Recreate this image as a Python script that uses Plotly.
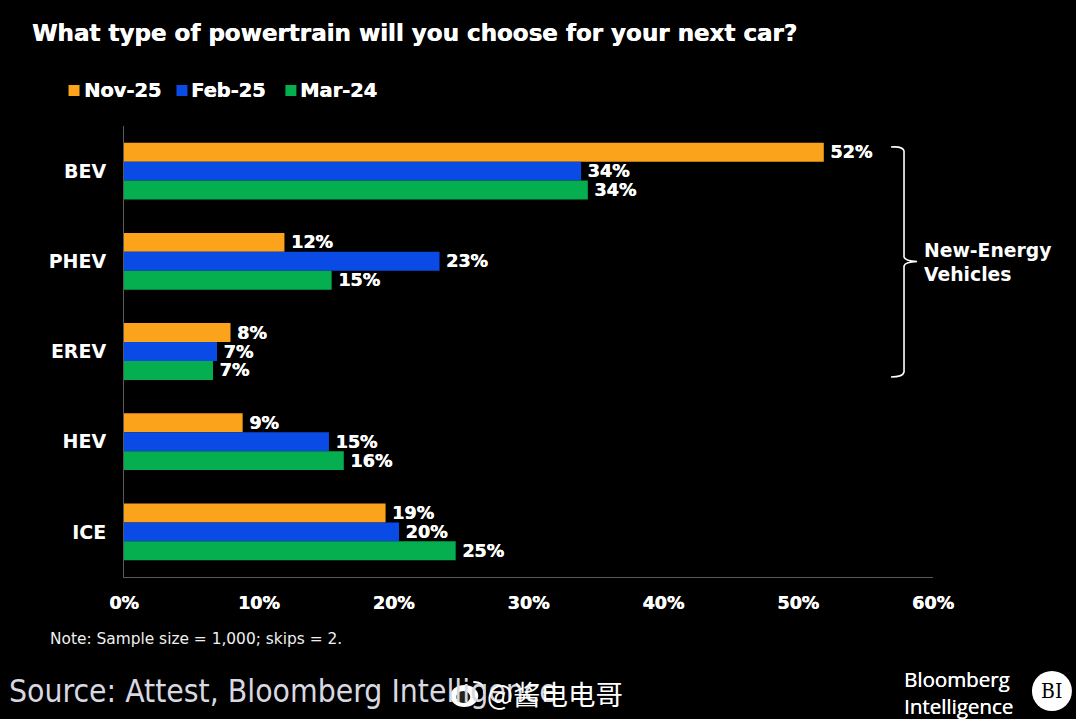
import plotly.graph_objects as go

W, H = 1076, 719
L, R, T, B = 123.5, 933.0, 126.0, 577.0

categories = ["BEV", "PHEV", "EREV", "HEV", "ICE"]
series_names = ["Nov-25", "Feb-25", "Mar-24"]
nov_25 = [51.9, 11.9, 7.9, 8.8, 19.4]
feb_25 = [33.9, 23.4, 6.9, 15.2, 20.4]
mar_24 = [34.4, 15.4, 6.6, 16.3, 24.6]
nov_25_labels = ["52%", "12%", "8%", "9%", "19%"]
feb_25_labels = ["34%", "23%", "7%", "15%", "20%"]
mar_24_labels = ["34%", "15%", "7%", "16%", "25%"]
colors = ["#FBA31B", "#0A4BE6", "#05AE4E"]
x_ticks = [0, 10, 20, 30, 40, 50, 60]
x_tick_labels = ["0%", "10%", "20%", "30%", "40%", "50%", "60%"]
legend_swatch_left = [68, 176, 285]

BOLD = "DejaVu Sans"
FAT = "0.5px 0 0 #FFFFFF"


def px(x):
    return (x - L) / (R - L)


def py(y):
    return (B - y) / (B - T)


def note(text, x, y, size, color="#FFFFFF", family="DejaVu Sans", bold=False, anchor="left", shadow="none"):
    return dict(
        text=f"<b>{text}</b>" if bold else text,
        x=px(x - 3 if anchor == "left" else x), y=py(y), xref="paper", yref="paper",
        xanchor=anchor, yanchor="middle", showarrow=False, align="left",
        font=dict(size=size, color=color, family=family, shadow=shadow),
    )


def brace_path():
    pts = [
        f"M{px(891)},{py(147)}",
        f"Q{px(903)},{py(146)} {px(904)},{py(151)}",
        f"L{px(904)},{py(257)}",
        f"Q{px(905)},{py(261)} {px(917)},{py(261.5)}",
        f"Q{px(905)},{py(262)} {px(904)},{py(266)}",
        f"L{px(904)},{py(372)}",
        f"Q{px(903)},{py(377)} {px(891)},{py(377)}",
    ]
    return " ".join(pts)


fig = go.Figure()
for name, vals, labels, col in zip(
    series_names, [nov_25, feb_25, mar_24],
    [nov_25_labels, feb_25_labels, mar_24_labels], colors
):
    fig.add_trace(go.Bar(
        name=name, y=categories, x=vals, orientation="h",
        marker=dict(color=col, line=dict(width=0)),
        text=[f"<b>\u2009{t}</b>" for t in labels], textposition="outside", cliponaxis=False,
        textangle=0, constraintext="none",
        textfont=dict(size=17.5, color="#FFFFFF", family=BOLD, shadow=FAT),
        hoverinfo="skip", showlegend=False,
    ))

annotations = [
    note("What type of powertrain will you choose for your next car?", 32, 33, 23, bold=True, shadow=FAT),
    note("New-Energy<br>Vehicles", 925, 262.5, 18.8, bold=True),
    note("Note: Sample size = 1,000; skips = 2.", 50, 639, 15.4, color="#F0F0F0"),
    note("Source: Attest, Bloomberg Intelligence", 9, 691, 31.6, family="DejaVu Sans Condensed", color="#D8D8E0"),
    note("@酱电电哥", 488, 693, 27.5, family="Noto Sans CJK SC", color="#FFFFFF"),
    note("Bloomberg<br>Intelligence", 905, 692, 20.5, family="Open Sans", shadow="0.3px 0 0 #FFFFFF"),
    note("BI", 1052, 691, 21, family="DejaVu Serif Condensed", color="#000000", anchor="center"),
]

shapes = [
    dict(type="path", path=brace_path(), xref="paper", yref="paper",
         line=dict(color="#FFFFFF", width=1.6)),
    dict(type="circle", xref="paper", yref="paper", x0=px(1032), x1=px(1072), y0=py(711), y1=py(671),
         fillcolor="#FFFFFF", line=dict(width=0), layer="below"),
    # watermark icon
    dict(type="circle", xref="paper", yref="paper", x0=px(450), x1=px(478), y0=py(707), y1=py(685),
         fillcolor="#FFFFFF", line=dict(width=0)),
    dict(type="circle", xref="paper", yref="paper", x0=px(456), x1=px(470), y0=py(703), y1=py(691),
         fillcolor="#222222", line=dict(width=0)),
    dict(type="path", xref="paper", yref="paper",
         path=f"M{px(473)},{py(682)} Q{px(485)},{py(682)} {px(484)},{py(694)}",
         line=dict(color="#FFFFFF", width=2)),
]

for name, col, left in zip(series_names, colors, legend_swatch_left):
    shapes.append(dict(type="rect", xref="paper", yref="paper",
                       x0=px(left), x1=px(left + 11), y0=py(96), y1=py(85),
                       fillcolor=col, line=dict(width=0)))
    annotations.append(note(name, left + 16, 90, 19.4, bold=True, shadow=FAT))

fig.update_layout(
    width=W, height=H,
    margin=dict(l=L, r=W - R, t=T, b=H - B, pad=0, autoexpand=False),
    paper_bgcolor="#000000", plot_bgcolor="#000000",
    barmode="group", bargap=0.37, bargroupgap=0,
    showlegend=False,
    xaxis=dict(
        range=[0, 60], tickvals=x_ticks, ticktext=[f"<b>{t}</b>" for t in x_tick_labels],
        showgrid=False, zeroline=False, showline=True, linecolor="#5A5A5A", linewidth=1,
        ticks="", tickfont=dict(size=17.5, color="#FFFFFF", family=BOLD, shadow=FAT),
        ticklabelstandoff=10,
    ),
    yaxis=dict(
        categoryorder="array", categoryarray=categories, autorange="reversed",
        showgrid=False, zeroline=False, showline=True, linecolor="#5A5A5A", linewidth=1,
        ticks="", tickmode="array", tickvals=categories,
        ticktext=[f"<b>{c}</b>" for c in categories],
        tickfont=dict(size=19, color="#FFFFFF", family=BOLD),
        ticklabelstandoff=13,
    ),
    annotations=annotations, shapes=shapes,
)

fig.write_html(
    "out.html",
    config={"displayModeBar": False},
    post_script="document.body.style.margin='0';document.body.style.background='#000';document.body.style.overflow='hidden';",
)
